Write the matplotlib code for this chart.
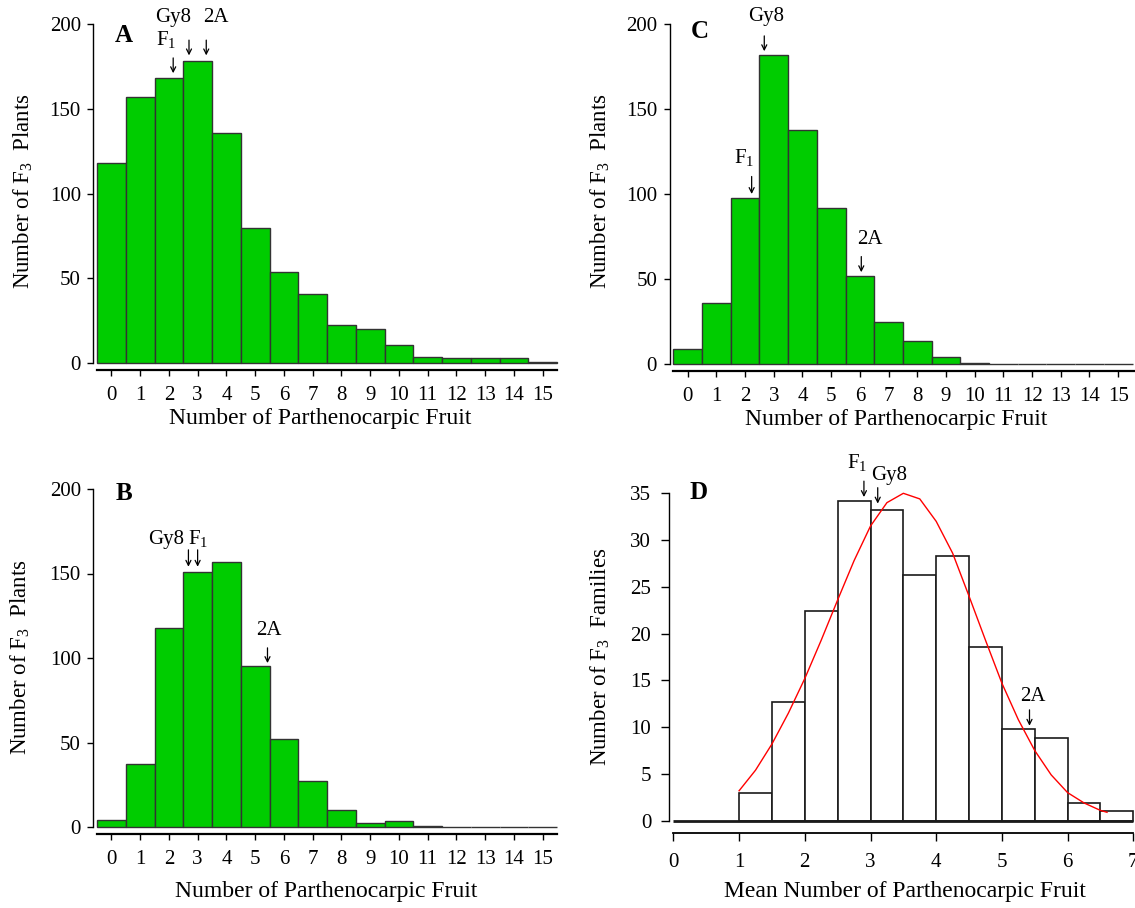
import matplotlib
matplotlib.use("Agg")
import matplotlib.pyplot as plt
import numpy as np

plt.rcParams['font.family'] = ['Liberation Serif', 'DejaVu Serif']
plt.rcParams['mathtext.fontset'] = 'custom'
plt.rcParams['mathtext.rm'] = 'Liberation Serif'
plt.rcParams['mathtext.it'] = 'Liberation Serif:italic'
plt.rcParams['mathtext.bf'] = 'Liberation Serif:bold'

# ---------------- data ----------------
fruit_counts = list(range(16))
A_plants = [118, 157, 168, 178, 136, 80, 54, 41, 22.5, 20.5, 10.5, 4, 3, 3, 3, 0.6]
B_plants = [4.4, 37, 118, 151, 157, 95, 52, 27, 10, 2.4, 3.4, 0.8, 0, 0, 0, 0]
C_plants = [9, 36, 97.5, 182, 137.5, 92, 52, 25, 13.6, 4, 0.8, 0, 0, 0, 0, 0]

D_bin_edges = [1.0, 1.5, 2.0, 2.5, 3.0, 3.5, 4.0, 4.5, 5.0, 5.5, 6.0, 6.5, 7.0]
D_families = [3, 12.7, 22.4, 34.2, 33.2, 26.3, 28.3, 18.6, 9.8, 8.8, 1.9, 1.0]
D_curve_x = [1.0, 1.25, 1.5, 1.75, 2.0, 2.25, 2.5, 2.75, 3.0, 3.25, 3.5, 3.75,
             4.0, 4.25, 4.5, 4.75, 5.0, 5.25, 5.5, 5.75, 6.0, 6.25, 6.5, 6.6]
D_curve_y = [3.2, 5.4, 8.2, 11.5, 15.2, 19.3, 23.6, 27.8, 31.5, 34.0, 35.0, 34.4,
             32.0, 28.6, 24.0, 19.3, 14.7, 10.8, 7.5, 4.9, 3.0, 1.9, 1.1, 0.9]

xticks_plants = list(range(16))
yticks_plants = [0, 50, 100, 150, 200]
xticks_mean = [0, 1, 2, 3, 4, 5, 6, 7]
yticks_families = [0, 5, 10, 15, 20, 25, 30, 35]

# annotations: label, text x, text y, arrow x, arrow tail y, arrow tip y
A_ann = [("F$_1$", 1.90, 191, 2.15, 180, 171),
         ("Gy8", 2.15, 204, 2.70, 190.5, 181.5),
         ("2A", 3.65, 204, 3.30, 190.5, 181.5)]
B_ann = [("Gy8", 1.92, 170, 2.68, 164, 154),
         ("F$_1$", 3.02, 171, 3.00, 164, 154),
         ("2A", 5.47, 116, 5.43, 106, 97)]
C_ann = [("Gy8", 2.73, 204.5, 2.67, 193, 184),
         ("F$_1$", 1.98, 121.5, 2.23, 110.3, 100),
         ("2A", 6.36, 73, 6.05, 63.2, 54)]
D_ann = [("F$_1$", 2.79, 38.3, 2.90, 36.3, 34.6),
         ("Gy8", 3.28, 36.9, 3.11, 35.6, 33.9),
         ("2A", 5.47, 13.3, 5.42, 11.85, 10.15)]

GREEN = '#00cc00'
EDGE = '#333333'
W, H = 1135, 908
DPI = 100
fig = plt.figure(figsize=(W / DPI, H / DPI), dpi=DPI)
fig.patch.set_facecolor('white')

PT = 72.0 / DPI  # points per pixel
TICK_FS = 15
XLABEL_FS = 17
YLABEL_FS = 16.5
ANN_FS = 15


def add_ax(x0, x1, ytop, ybot):
    return fig.add_axes([x0 / W, 1 - ybot / H, (x1 - x0) / W, (ybot - ytop) / H])


def style(ax, left_out, bottom_out, xbounds, ybounds, ypad=4.5):
    for s in ['top', 'right']:
        ax.spines[s].set_visible(False)
    ax.spines['left'].set_position(('outward', left_out * PT))
    ax.spines['bottom'].set_position(('outward', bottom_out * PT))
    ax.spines['left'].set_bounds(*ybounds)
    if xbounds is not None:
        ax.spines['bottom'].set_bounds(*xbounds)
    ax.spines['left'].set_linewidth(1.0)
    ax.spines['bottom'].set_linewidth(1.6)
    ax.tick_params(axis='y', length=4.5, width=1.0, pad=ypad, labelsize=TICK_FS)
    ax.tick_params(axis='x', length=4.5, width=1.0, pad=7, labelsize=TICK_FS)
    ax.set_facecolor('none')


def annotate(ax, ann):
    for lab, tx, ty, axx, y0, y1 in ann:
        ax.text(tx, ty, lab, ha='center', va='center', fontsize=ANN_FS, clip_on=False)
        ax.annotate('', xy=(axx, y1), xytext=(axx, y0),
                    arrowprops=dict(arrowstyle='->', lw=0.9, color='black',
                                    shrinkA=0, shrinkB=0, mutation_scale=9),
                    annotation_clip=False)


def label_coords(ax, axis, px, py, box):
    x0, x1, ytop, ybot = box
    fx = (px - x0) / (x1 - x0)
    fy = (ybot - py) / (ybot - ytop)
    if axis == 'x':
        ax.xaxis.set_label_coords(fx, fy)
    else:
        ax.yaxis.set_label_coords(fx, fy)


def bar_panel(box, values, xmax, letter, letter_px, ann, ylab_px, xlab_px):
    ax = add_ax(*box)
    ax.bar(fruit_counts, values, width=1.0, color=GREEN, edgecolor=EDGE,
           linewidth=1.0, clip_on=False, zorder=2)
    ax.set_xlim(-0.5, xmax)
    ax.set_ylim(0, 200)
    style(ax, 3.7, 6.7, None, (0, 200))
    ax.set_xticks(xticks_plants)
    ax.set_yticks(yticks_plants)
    ax.set_ylabel('Number of F$_3$  Plants', fontsize=YLABEL_FS)
    ax.set_xlabel('Number of Parthenocarpic Fruit', fontsize=XLABEL_FS)
    label_coords(ax, 'y', ylab_px[0], ylab_px[1], box)
    label_coords(ax, 'x', xlab_px[0], xlab_px[1], box)
    ax.yaxis.label.set_va('center')
    ax.xaxis.label.set_va('center')
    fig.text(letter_px[0] / W, 1 - letter_px[1] / H, letter, fontsize=18,
             fontweight='bold', ha='center', va='center')
    annotate(ax, ann)
    return ax


boxA = (97, 557, 24, 363.3)
boxC = (673.3, 1135, 24, 364)
boxB = (97, 557, 489, 827)
boxD = (673.4, 1135, 493.3, 820.7)

bar_panel(boxA, A_plants, 15.5, 'A', (124, 35), A_ann, (23, 191), (320, 419))
bar_panel(boxC, C_plants, -0.5 + (1135 - 673.3) / 28.7, 'C', (700, 32), C_ann,
          (600, 191), (896, 419))
bar_panel(boxB, B_plants, 15.5, 'B', (124, 494), B_ann, (20, 657), (326, 891))

# Panel D
axD = add_ax(*boxD)
d_left = D_bin_edges[:-1]
d_width = [D_bin_edges[i + 1] - D_bin_edges[i] for i in range(len(D_families))]
axD.bar(d_left, D_families, width=d_width, align='edge', color='white',
        edgecolor='#1a1a1a', linewidth=1.2, clip_on=False, zorder=2)
axD.hlines(0, xticks_mean[0], xticks_mean[-1], color='#1a1a1a', lw=2.0,
           zorder=3, clip_on=False)
axD.plot(D_curve_x, D_curve_y, color='red', lw=1.0, zorder=4, clip_on=False)
axD.set_xlim(0, (1135 - 673.4) / 65.7)
axD.set_ylim(0, 35)
style(axD, 4.1, 12.6, (xticks_mean[0], xticks_mean[-1]), (0, 35), ypad=7)
axD.spines['bottom'].set_linewidth(1.3)
axD.tick_params(axis='x', length=6, pad=8)
axD.tick_params(axis='y', length=6)
axD.set_xticks(xticks_mean)
axD.set_yticks(yticks_families)
axD.set_ylabel('Number of F$_3$  Families', fontsize=YLABEL_FS)
axD.set_xlabel('Mean Number of Parthenocarpic Fruit', fontsize=XLABEL_FS)
label_coords(axD, 'y', 600, 657, boxD)
label_coords(axD, 'x', 905, 891, boxD)
axD.yaxis.label.set_va('center')
axD.xaxis.label.set_va('center')
fig.text(699 / W, 1 - 493 / H, 'D', fontsize=18, fontweight='bold',
         ha='center', va='center')
annotate(axD, D_ann)

fig.savefig('out.png', dpi=DPI, facecolor='white')
